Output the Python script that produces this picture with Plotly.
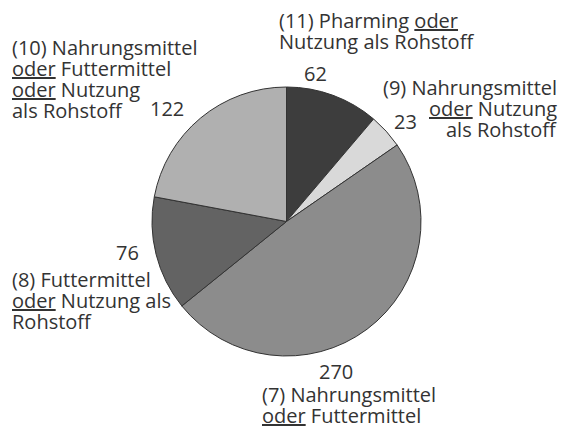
import plotly.graph_objects as go

W, H = 562, 429

categories = [
    "(11) Pharming <u>oder</u><br>Nutzung als Rohstoff",
    "(9) Nahrungsmittel<br><u>oder</u> Nutzung<br>als Rohstoff",
    "(7) Nahrungsmittel<br><u>oder</u> Futtermittel",
    "(8) Futtermittel<br><u>oder</u> Nutzung als<br>Rohstoff",
    "(10) Nahrungsmittel<br><u>oder</u> Futtermittel<br><u>oder</u> Nutzung<br>als Rohstoff",
]
values = [62, 23, 270, 76, 122]
colors = ["#3d3d3d", "#d9d9d9", "#8c8c8c", "#636363", "#b0b0b0"]

# label layout (pixel anchors: x, first baseline y, alignment) kept separate from data
label_pos = [(279, 28, "left"), (557, 95, "right"), (262, 402, "left"), (12, 287, "left"), (12, 55, "left")]
value_pos = [(315, 73), (405, 121), (336, 371), (127, 252), (167, 108)]
LINE = 21
FS = 20

cx, cy, r = 286.5, 221.5, 134.5

fig = go.Figure(go.Pie(
    values=values,
    labels=[str(i) for i in range(len(values))],
    sort=False,
    direction="clockwise",
    rotation=0,
    marker=dict(colors=colors, line=dict(color="#333333", width=1)),
    textinfo="none",
    hoverinfo="none",
    showlegend=False,
    domain=dict(x=[(cx - r) / W, (cx + r) / W], y=[(H - cy - r) / H, (H - cy + r) / H]),
))

font = dict(family="Open Sans, Noto Sans, sans-serif", size=FS, color="#333333")
ann = []
for txt, (x, y0, al) in zip(categories, label_pos):
    for i, line in enumerate(txt.split("<br>")):
        yc = y0 + i * LINE - 0.388 * FS
        ann.append(dict(text=line, x=x / W, y=1 - yc / H, xref="paper", yref="paper",
                        xanchor=al, yanchor="middle", align=al, showarrow=False, font=font,
                        borderpad=0, borderwidth=0))
for v, (x, y) in zip(values, value_pos):
    ann.append(dict(text=str(v), x=x / W, y=1 - y / H, xref="paper", yref="paper",
                    xanchor="center", yanchor="middle", showarrow=False, font=font,
                    borderpad=0, borderwidth=0))

fig.update_layout(width=W, height=H, margin=dict(l=0, r=0, t=0, b=0),
                  paper_bgcolor="white", plot_bgcolor="white", annotations=ann)
fig.write_html("out.html", config={"displayModeBar": False},
               post_script="document.body.style.margin='0';")
